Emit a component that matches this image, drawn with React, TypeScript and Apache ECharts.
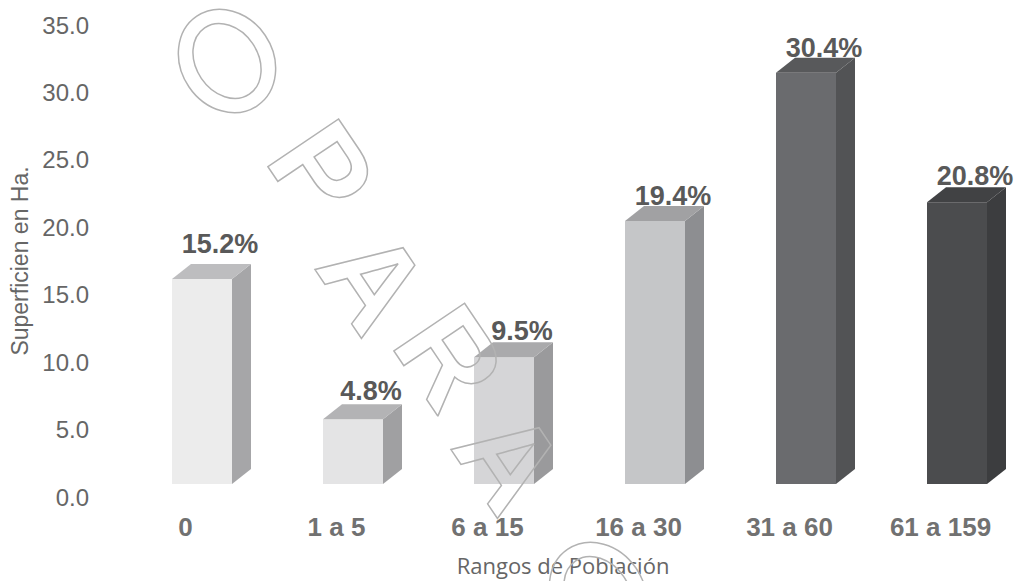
import React, { useEffect, useRef } from "react";
import * as echarts from "echarts";

// ---- data ----
const categories = ["0", "1 a 5", "6 a 15", "16 a 30", "31 a 60", "61 a 159"];
const values = [15.2, 4.8, 9.4, 19.5, 30.5, 20.9];
const pctLabels = ["15.2%", "4.8%", "9.5%", "19.4%", "30.4%", "20.8%"];
const yTicks = { min: 0, max: 35, interval: 5 };
const watermarkLetters = ["P", "A", "R", "A"];

// ---- styles ----
const frontColors = ["#ececec", "#e4e4e5", "#d5d5d7", "#c5c6c8", "#6a6b6e", "#4b4c4e"];
const sideColors = ["#a6a6a8", "#a0a0a2", "#9a9a9c", "#8d8e91", "#525355", "#3c3d3f"];
const topColors = ["#bdbdbf", "#b3b3b5", "#aaaaac", "#a1a1a3", "#58595b", "#414244"];
const labelDy = [-20, -13, -11, -10, -10, -11];
const wmPos = [
  [322, 170],
  [374, 280],
  [450, 357],
  [510, 460],
];
const ringCenters = [
  [227, 61],
  [598, 594],
];
const WM_ROT = (-56 * Math.PI) / 180;
const WM_STROKE = "#b2b2b2";

export default function App() {
  const ref = useRef<HTMLDivElement>(null);

  useEffect(() => {
    if (!ref.current) return;
    const chart = echarts.init(ref.current, undefined, { renderer: "svg" });

    const renderItem = (params: any, api: any) => {
      const i = api.value(0);
      const v = api.value(1);
      const base = api.coord([i, 0]);
      const top = api.coord([i, v]);
      const lift = 13;
      const w = 60;
      const dx = 19;
      const dy = 15;
      const fl = base[0] - 13.5;
      const yb = base[1] - lift;
      const yt = top[1] - lift;
      return {
        type: "group",
        children: [
          {
            type: "polygon",
            shape: { points: [[fl, yt], [fl + w, yt], [fl + w, yb], [fl, yb]] },
            style: { fill: frontColors[i] },
          },
          {
            type: "polygon",
            shape: {
              points: [[fl + w, yt], [fl + w + dx, yt - dy], [fl + w + dx, yb - dy], [fl + w, yb]],
            },
            style: { fill: sideColors[i] },
          },
          {
            type: "polygon",
            shape: {
              points: [[fl, yt], [fl + dx, yt - dy], [fl + w + dx, yt - dy], [fl + w, yt]],
            },
            style: { fill: topColors[i] },
          },
          {
            type: "text",
            x: fl + 48,
            y: yt - dy + labelDy[i],
            style: {
              text: pctLabels[i],
              fill: "#595959",
              font: "bold 27px 'Liberation Sans', Arial, sans-serif",
              align: "center",
              verticalAlign: "middle",
            },
          },
        ],
      };
    };

    const letters = watermarkLetters.map((ch, k) => ({
      type: "text",
      x: wmPos[k][0],
      y: wmPos[k][1],
      rotation: WM_ROT,
      z: 100,
      silent: true,
      style: {
        text: ch,
        font: "bold 124px 'Liberation Sans', Arial, sans-serif",
        fill: "none",
        stroke: WM_STROKE,
        lineWidth: 1.5,
        align: "center",
        verticalAlign: "middle",
      },
    }));

    const rings: any[] = [];
    ringCenters.forEach((c) => {
      [
        { rx: 54, ry: 46 },
        { rx: 40, ry: 31 },
      ].forEach((r) => {
        rings.push({
          type: "ellipse",
          x: c[0],
          y: c[1],
          rotation: WM_ROT,
          z: 100,
          silent: true,
          shape: { cx: 0, cy: 0, rx: r.rx, ry: r.ry },
          style: { fill: "none", stroke: WM_STROKE, lineWidth: 1.5 },
        });
      });
    });

    chart.setOption({
      animation: false,
      backgroundColor: "#ffffff",
      grid: { left: 110, right: 5, top: 25, bottom: 83 },
      xAxis: {
        type: "category",
        data: categories,
        boundaryGap: true,
        axisLine: { show: false },
        axisTick: { show: false },
        axisLabel: {
          margin: 17,
          color: "#717171",
          fontSize: 26,
          fontWeight: "bold",
          fontFamily: "'Liberation Sans', Arial, sans-serif",
        },
        name: "Rangos de Población",
        nameLocation: "middle",
        nameGap: 57,
        nameTextStyle: {
          color: "#666666",
          fontSize: 22,
          fontFamily: "'Open Sans', sans-serif",
          verticalAlign: "top",
        },
      },
      yAxis: {
        type: "value",
        min: yTicks.min,
        max: yTicks.max,
        interval: yTicks.interval,
        axisLine: { show: false },
        axisTick: { show: false },
        splitLine: { show: false },
        axisLabel: {
          margin: 21,
          color: "#666666",
          fontSize: 24,
          fontFamily: "'Liberation Sans', Arial, sans-serif",
          formatter: (v: number) => v.toFixed(1),
        },
        name: "Superficien en Ha.",
        nameLocation: "middle",
        nameGap: 79,
        nameTextStyle: {
          color: "#666666",
          fontSize: 23,
          fontFamily: "'Liberation Sans', Arial, sans-serif",
        },
      },
      series: [
        {
          type: "custom",
          renderItem,
          data: values.map((v, i) => [i, v]),
          encode: { x: 0, y: 1 },
          clip: false,
        },
      ],
      graphic: [...letters, ...rings],
    });

    return () => chart.dispose();
  }, []);

  return <div ref={ref} style={{ width: 1021, height: 581, position: "absolute", left: 0, top: 0 }} />;
}
